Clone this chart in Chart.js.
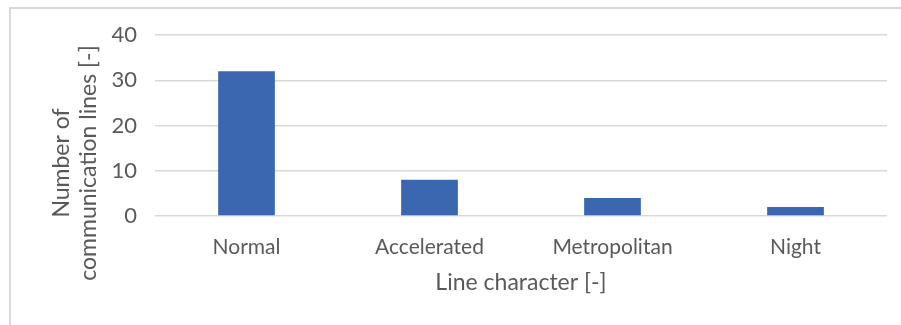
<!DOCTYPE html>
<html>
<head>
<meta charset="utf-8">
<script src="https://cdn.jsdelivr.net/npm/chart.js@4"></script>
<style>
  html, body { margin: 0; padding: 0; background: #ffffff; overflow: hidden; }
  #wrap { position: relative; width: 901px; height: 325px; }
  #frame { position: absolute; left: 9px; top: 7px; width: 1000px; height: 400px; border: 2px solid #d9d9d9; box-sizing: border-box; }
  #c { position: absolute; left: 0; top: 0; }
</style>
</head>
<body>
<div id="wrap">
  <div id="frame"></div>
  <canvas id="c" width="901" height="325"></canvas>
</div>
<script>
const categories = ['Normal', 'Accelerated', 'Metropolitan', 'Night'];
const lineCounts = [32, 8, 4, 2];
const yTitleLines = ['Number of', 'communication lines [-]'];
const xTitle = 'Line character [-]';
const yMin = 0, yMax = 40, yStep = 10;

const FONT = 'Lato, "Open Sans", sans-serif';
const TEXT = '#595959';

const yTitlePlugin = {
  id: 'yTitle',
  afterDraw(chart) {
    const ctx = chart.ctx;
    ctx.save();
    ctx.translate(75, 163);
    ctx.rotate(-Math.PI / 2);
    ctx.fillStyle = TEXT;
    ctx.font = '23px ' + FONT;
    ctx.textAlign = 'center';
    ctx.textBaseline = 'middle';
    ctx.fillText(yTitleLines[0], 0, -13.5);
    ctx.fillText(yTitleLines[1], 0, 13.5);
    ctx.restore();
  }
};

new Chart(document.getElementById('c'), {
  type: 'bar',
  data: {
    labels: categories,
    datasets: [{
      data: lineCounts,
      backgroundColor: '#3b67b1',
      borderWidth: 0,
      barPercentage: 0.62,
      categoryPercentage: 0.5
    }]
  },
  options: {
    responsive: false,
    animation: false,
    layout: { padding: { left: 0, right: 14, top: 35, bottom: 0 } },
    plugins: { legend: { display: false }, tooltip: { enabled: false } },
    scales: {
      x: {
        grid: { display: false, drawTicks: false },
        border: { display: false },
        ticks: { color: TEXT, font: { family: FONT, size: 21 }, padding: 19, maxRotation: 0 },
        title: { display: true, text: xTitle, color: TEXT, font: { family: FONT, size: 23 }, padding: { top: 0, bottom: 28.5 } },
        afterFit(scale) { scale.height = 109; }
      },
      y: {
        min: yMin, max: yMax,
        grid: { color: '#d9d9d9', lineWidth: 1.5, drawTicks: false },
        border: { display: false },
        ticks: { stepSize: yStep, color: TEXT, font: { family: FONT, size: 22 }, padding: 18 },
        afterFit(scale) { scale.width = 155; }
      }
    }
  },
  plugins: [yTitlePlugin]
});
</script>
</body>
</html>
